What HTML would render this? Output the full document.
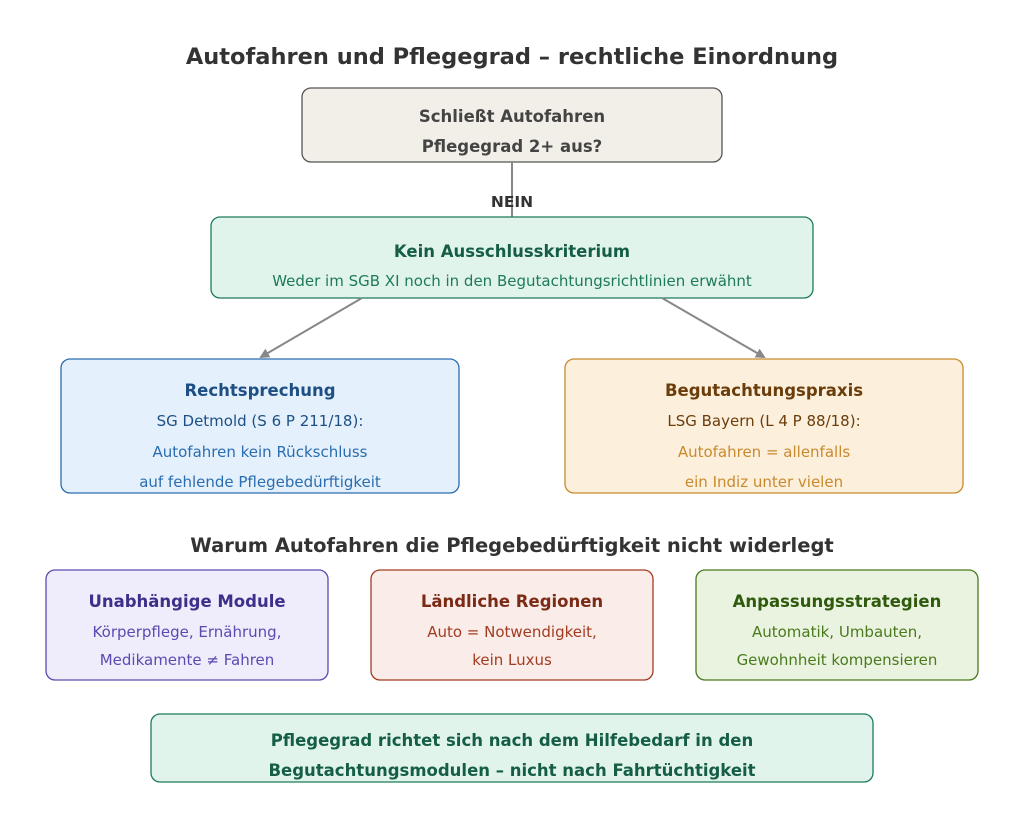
<!DOCTYPE html>
<html><head><meta charset="utf-8"><style>body{margin:0;background:#fff}svg{display:block}text{font-family:"DejaVu Sans","Liberation Sans",sans-serif;text-anchor:middle}</style></head><body>
<svg width="1024" height="828" viewBox="0 0 1024 828" xmlns="http://www.w3.org/2000/svg">
<defs><marker id="a" markerWidth="10" markerHeight="10" refX="8" refY="5" orient="auto" markerUnits="userSpaceOnUse"><path d="M0,0 L10,5 L0,10 z" fill="#888"/></marker></defs>
<text x="512" y="64" font-size="22.5" font-weight="bold" fill="#333">Autofahren und Pflegegrad – rechtliche Einordnung</text>
<rect x="302" y="88" width="420" height="74" rx="9" fill="#f2efe8" stroke="#555" stroke-width="1.3"/>
<text x="512" y="122" font-size="16.5" font-weight="bold" fill="#444">Schließt Autofahren</text>
<text x="512" y="152" font-size="16.5" font-weight="bold" fill="#444">Pflegegrad 2+ aus?</text>
<line x1="512" y1="162" x2="512" y2="217" stroke="#888" stroke-width="2"/>
<text x="512" y="207" font-size="15.5" font-weight="bold" fill="#333">NEIN</text>
<rect x="211" y="217" width="602" height="81" rx="9" fill="#e0f4ec" stroke="#1e7a5a" stroke-width="1.3"/>
<text x="512" y="257" font-size="16.5" font-weight="bold" fill="#155e45">Kein Ausschlusskriterium</text>
<text x="512" y="286" font-size="15" fill="#1e7a5a">Weder im SGB XI noch in den Begutachtungsrichtlinien erwähnt</text>
<line x1="362" y1="298" x2="261" y2="357" stroke="#888" stroke-width="2" marker-end="url(#a)"/>
<line x1="662" y1="298" x2="764" y2="357" stroke="#888" stroke-width="2" marker-end="url(#a)"/>
<rect x="61" y="359" width="398" height="134" rx="9" fill="#e4f0fb" stroke="#2a6db0" stroke-width="1.3"/>
<text x="260" y="396" font-size="16.5" font-weight="bold" fill="#1d4f85">Rechtsprechung</text>
<text x="260" y="426" font-size="15" fill="#1d4f85">SG Detmold (S 6 P 211/18):</text>
<text x="260" y="457" font-size="15" fill="#2a6db0">Autofahren kein Rückschluss</text>
<text x="260" y="487" font-size="15" fill="#2a6db0">auf fehlende Pflegebedürftigkeit</text>
<rect x="565" y="359" width="398" height="134" rx="9" fill="#fcefdc" stroke="#c98a2e" stroke-width="1.3"/>
<text x="764" y="396" font-size="16.5" font-weight="bold" fill="#6b3d0a">Begutachtungspraxis</text>
<text x="764" y="426" font-size="15" fill="#6b3d0a">LSG Bayern (L 4 P 88/18):</text>
<text x="764" y="457" font-size="15" fill="#c98a2e">Autofahren = allenfalls</text>
<text x="764" y="487" font-size="15" fill="#c98a2e">ein Indiz unter vielen</text>
<text x="512" y="552" font-size="19.5" font-weight="bold" fill="#333">Warum Autofahren die Pflegebedürftigkeit nicht widerlegt</text>
<rect x="46" y="570" width="282" height="110" rx="9" fill="#efecfc" stroke="#5a4bb0" stroke-width="1.3"/>
<text x="187" y="607" font-size="16.5" font-weight="bold" fill="#3d2f8a">Unabhängige Module</text>
<text x="187" y="637" font-size="15" fill="#5a4bb0">Körperpflege, Ernährung,</text>
<text x="187" y="665" font-size="15" fill="#5a4bb0">Medikamente ≠ Fahren</text>
<rect x="371" y="570" width="282" height="110" rx="9" fill="#faece8" stroke="#a23c22" stroke-width="1.3"/>
<text x="512" y="607" font-size="16.5" font-weight="bold" fill="#7a2a15">Ländliche Regionen</text>
<text x="512" y="637" font-size="15" fill="#a23c22">Auto = Notwendigkeit,</text>
<text x="512" y="665" font-size="15" fill="#a23c22">kein Luxus</text>
<rect x="696" y="570" width="282" height="110" rx="9" fill="#eaf3df" stroke="#4a7a1e" stroke-width="1.3"/>
<text x="837" y="607" font-size="16.5" font-weight="bold" fill="#2f5a0e">Anpassungsstrategien</text>
<text x="837" y="637" font-size="15" fill="#4a7a1e">Automatik, Umbauten,</text>
<text x="837" y="665" font-size="15" fill="#4a7a1e">Gewohnheit kompensieren</text>
<rect x="151" y="714" width="722" height="68" rx="9" fill="#e0f4ec" stroke="#1e7a5a" stroke-width="1.3"/>
<text x="512" y="746" font-size="16.5" font-weight="bold" fill="#155e45">Pflegegrad richtet sich nach dem Hilfebedarf in den</text>
<text x="512" y="776" font-size="16.5" font-weight="bold" fill="#155e45">Begutachtungsmodulen – nicht nach Fahrtüchtigkeit</text>
</svg>
</body></html>
